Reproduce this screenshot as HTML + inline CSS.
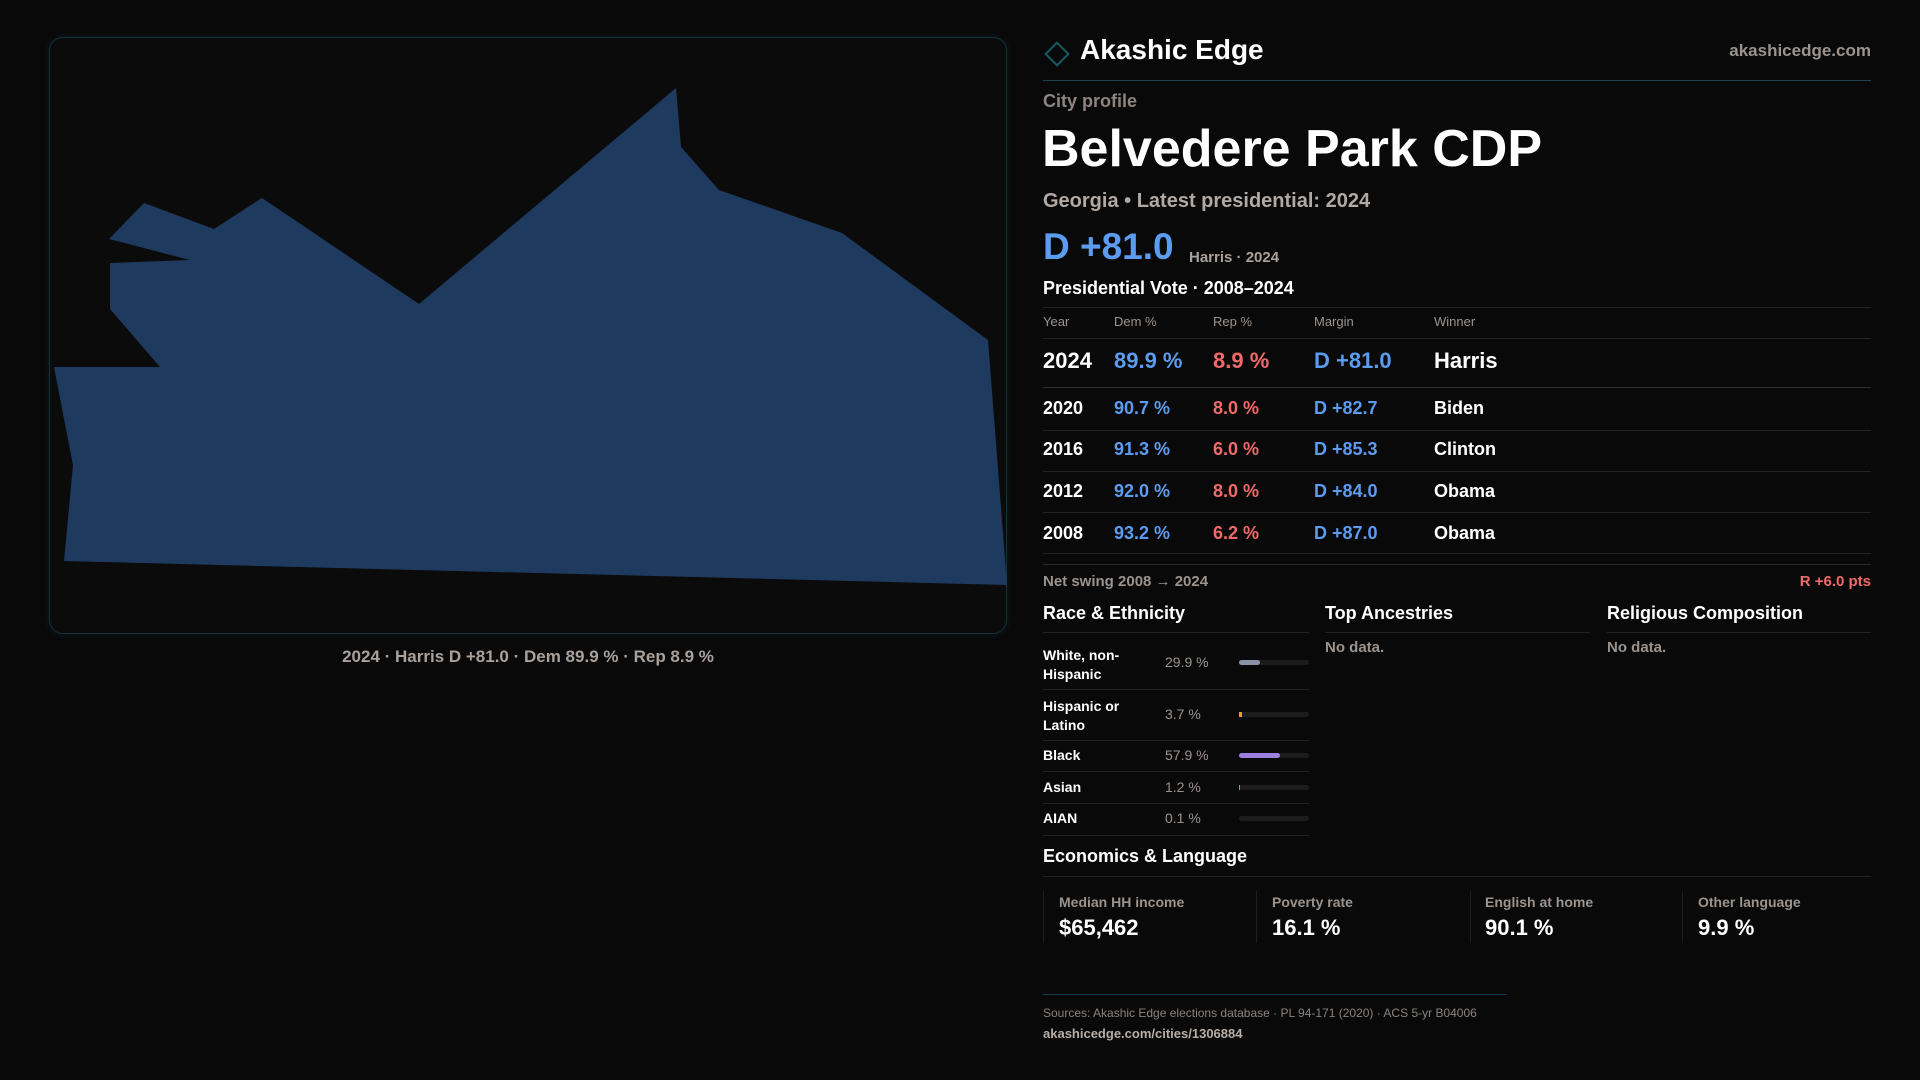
<!DOCTYPE html>
<html><head><meta charset="utf-8"><style>
*{margin:0;padding:0;box-sizing:border-box}
body{width:1920px;height:1080px;background:#0a0909;font-family:"Liberation Sans",sans-serif;color:#fff;position:relative;overflow:hidden}
.a{position:absolute;white-space:nowrap;line-height:1}
.g{color:#9a938e}
.hl{position:absolute;height:1px;background:#232323}
.b{color:#5b9cf0}.r{color:#f06a6a}
</style></head><body>
<div class="a" style="left:49px;top:37px;width:958px;height:597px;border:1px solid #12343a;border-radius:14px;background:#0b0b0b;box-shadow:0 0 8px rgba(20,80,90,0.25)"></div>
<svg class="a" style="left:0;top:0" width="1020" height="650">
<polygon fill="#1f3a5f" points="54,367 73,465 64,561 1007,585 988,340 842,233 719,190 681,147 676,88 419,304 262,198 214,229 144,203 109,239 190,260 110,263 110,309 160,367"/>
</svg>
<div class="a g" style="left:49px;width:958px;text-align:center;top:648px;font-size:17px;font-weight:bold;color:#a8a19c">2024 · Harris D +81.0 · Dem 89.9 % · Rep 8.9 %</div>

<div class="a" style="left:1048px;top:45px;width:18px;height:18px;border:2px solid #155a60;transform:rotate(45deg)"></div>
<div class="a" style="left:1080px;top:36px;font-size:28px;font-weight:bold">Akashic Edge</div>
<div class="a" style="right:49px;top:42px;font-size:17px;font-weight:bold;color:#9a938e">akashicedge.com</div>
<div class="hl" style="left:1043px;width:828px;top:80px;background:#1b4550"></div>
<div class="a g" style="left:1043px;top:92px;font-size:18px;font-weight:bold;color:#8d8580">City profile</div>
<div class="a" style="left:1042px;top:123px;font-size:52px;font-weight:bold">Belvedere Park CDP</div>
<div class="a" style="left:1043px;top:191px;font-size:20px;font-weight:bold;color:#b0a9a4">Georgia • Latest presidential: 2024</div>
<div class="a b" style="left:1043px;top:228px;font-size:37px;font-weight:bold">D +81.0</div>
<div class="a" style="left:1189px;top:250px;font-size:15px;font-weight:bold;color:#a8a19c">Harris · 2024</div>
<div class="a" style="left:1043px;top:279px;font-size:18px;font-weight:bold">Presidential Vote · 2008–2024</div>
<div class="hl" style="left:1043px;width:828px;top:307px"></div>
<div class="a g" style="left:1043px;top:315px;font-size:13px">Year</div>
<div class="a g" style="left:1114px;top:315px;font-size:13px">Dem %</div>
<div class="a g" style="left:1213px;top:315px;font-size:13px">Rep %</div>
<div class="a g" style="left:1314px;top:315px;font-size:13px">Margin</div>
<div class="a g" style="left:1434px;top:315px;font-size:13px">Winner</div>
<div class="hl" style="left:1043px;width:828px;top:338px"></div>
<div class="a" style="left:1043px;top:350px;font-size:22px;font-weight:bold">2024</div>
<div class="a b" style="left:1114px;top:350px;font-size:22px;font-weight:bold">89.9 %</div>
<div class="a r" style="left:1213px;top:350px;font-size:22px;font-weight:bold">8.9 %</div>
<div class="a b" style="left:1314px;top:350px;font-size:22px;font-weight:bold">D +81.0</div>
<div class="a" style="left:1434px;top:350px;font-size:22px;font-weight:bold">Harris</div>
<div class="hl" style="left:1043px;width:828px;top:387px;background:#2e2e2e"></div>

<div class="a" style="left:1043px;top:399px;font-size:18px;font-weight:bold">2020</div><div class="a b" style="left:1114px;top:399px;font-size:18px;font-weight:bold">90.7 %</div><div class="a r" style="left:1213px;top:399px;font-size:18px;font-weight:bold">8.0 %</div><div class="a b" style="left:1314px;top:399px;font-size:18px;font-weight:bold">D +82.7</div><div class="a" style="left:1434px;top:399px;font-size:18px;font-weight:bold">Biden</div>
<div class="hl" style="left:1043px;width:828px;top:430px"></div>
<div class="a" style="left:1043px;top:440px;font-size:18px;font-weight:bold">2016</div><div class="a b" style="left:1114px;top:440px;font-size:18px;font-weight:bold">91.3 %</div><div class="a r" style="left:1213px;top:440px;font-size:18px;font-weight:bold">6.0 %</div><div class="a b" style="left:1314px;top:440px;font-size:18px;font-weight:bold">D +85.3</div><div class="a" style="left:1434px;top:440px;font-size:18px;font-weight:bold">Clinton</div>
<div class="hl" style="left:1043px;width:828px;top:471px"></div>
<div class="a" style="left:1043px;top:482px;font-size:18px;font-weight:bold">2012</div><div class="a b" style="left:1114px;top:482px;font-size:18px;font-weight:bold">92.0 %</div><div class="a r" style="left:1213px;top:482px;font-size:18px;font-weight:bold">8.0 %</div><div class="a b" style="left:1314px;top:482px;font-size:18px;font-weight:bold">D +84.0</div><div class="a" style="left:1434px;top:482px;font-size:18px;font-weight:bold">Obama</div>
<div class="hl" style="left:1043px;width:828px;top:512px"></div>
<div class="a" style="left:1043px;top:524px;font-size:18px;font-weight:bold">2008</div><div class="a b" style="left:1114px;top:524px;font-size:18px;font-weight:bold">93.2 %</div><div class="a r" style="left:1213px;top:524px;font-size:18px;font-weight:bold">6.2 %</div><div class="a b" style="left:1314px;top:524px;font-size:18px;font-weight:bold">D +87.0</div><div class="a" style="left:1434px;top:524px;font-size:18px;font-weight:bold">Obama</div>
<div class="hl" style="left:1043px;width:828px;top:553px"></div>
<div class="hl" style="left:1043px;width:828px;top:564px;background:#2a2a2a"></div>
<div class="a g" style="left:1043px;top:574px;font-size:15px;font-weight:bold">Net swing 2008 → 2024</div>
<div class="a r" style="right:49px;top:574px;font-size:15px;font-weight:bold">R +6.0 pts</div>

<div class="a" style="left:1043px;top:604px;font-size:18px;font-weight:bold">Race &amp; Ethnicity</div>
<div class="a" style="left:1325px;top:604px;font-size:18px;font-weight:bold">Top Ancestries</div>
<div class="a" style="left:1607px;top:604px;font-size:18px;font-weight:bold">Religious Composition</div>
<div class="hl" style="left:1043px;width:266px;top:632px"></div>
<div class="hl" style="left:1325px;width:265px;top:632px"></div>
<div class="hl" style="left:1607px;width:264px;top:632px"></div>
<div class="a g" style="left:1325px;top:640px;font-size:15px;font-weight:bold">No data.</div>
<div class="a g" style="left:1607px;top:640px;font-size:15px;font-weight:bold">No data.</div>

<div class="a" style="left:1043px;top:646px;font-size:14px;font-weight:bold;line-height:19px">White, non-<br>Hispanic</div>
<div class="a g" style="left:1165px;top:655px;font-size:14px">29.9 %</div>
<div class="a" style="left:1239px;top:660px;width:70px;height:5px;border-radius:3px;background:#1c1c1c"><div style="width:30%;height:100%;background:#8a94a6;border-radius:3px"></div></div>
<div class="hl" style="left:1043px;width:266px;top:689px"></div>
<div class="a" style="left:1043px;top:697px;font-size:14px;font-weight:bold;line-height:19px">Hispanic or<br>Latino</div>
<div class="a g" style="left:1165px;top:707px;font-size:14px">3.7 %</div>
<div class="a" style="left:1239px;top:712px;width:70px;height:5px;border-radius:3px;background:#1c1c1c"><div style="width:4%;height:100%;background:#e8a020"></div></div>
<div class="hl" style="left:1043px;width:266px;top:740px"></div>
<div class="a" style="left:1043px;top:748px;font-size:14px;font-weight:bold">Black</div>
<div class="a g" style="left:1165px;top:748px;font-size:14px">57.9 %</div>
<div class="a" style="left:1239px;top:753px;width:70px;height:5px;border-radius:3px;background:#1c1c1c"><div style="width:58%;height:100%;background:#9b80e0;border-radius:3px"></div></div>
<div class="hl" style="left:1043px;width:266px;top:771px"></div>
<div class="a" style="left:1043px;top:780px;font-size:14px;font-weight:bold">Asian</div>
<div class="a g" style="left:1165px;top:780px;font-size:14px">1.2 %</div>
<div class="a" style="left:1239px;top:785px;width:70px;height:5px;border-radius:3px;background:#1c1c1c"><div style="width:2%;height:100%;background:#2ec4a0"></div></div>
<div class="hl" style="left:1043px;width:266px;top:803px"></div>
<div class="a" style="left:1043px;top:811px;font-size:14px;font-weight:bold">AIAN</div>
<div class="a g" style="left:1165px;top:811px;font-size:14px">0.1 %</div>
<div class="a" style="left:1239px;top:816px;width:70px;height:5px;border-radius:3px;background:#1c1c1c"></div>
<div class="hl" style="left:1043px;width:266px;top:835px"></div>

<div class="a" style="left:1043px;top:847px;font-size:18px;font-weight:bold">Economics &amp; Language</div>
<div class="hl" style="left:1043px;width:828px;top:876px"></div>
<div class="a" style="left:1043px;top:891px;width:1px;height:52px;background:#1e1e1e"></div>
<div class="a" style="left:1256px;top:891px;width:1px;height:52px;background:#1e1e1e"></div>
<div class="a" style="left:1470px;top:891px;width:1px;height:52px;background:#1e1e1e"></div>
<div class="a" style="left:1682px;top:891px;width:1px;height:52px;background:#1e1e1e"></div>
<div class="a g" style="left:1059px;top:895px;font-size:14px;font-weight:bold">Median HH income</div>
<div class="a g" style="left:1272px;top:895px;font-size:14px;font-weight:bold">Poverty rate</div>
<div class="a g" style="left:1485px;top:895px;font-size:14px;font-weight:bold">English at home</div>
<div class="a g" style="left:1698px;top:895px;font-size:14px;font-weight:bold">Other language</div>
<div class="a" style="left:1059px;top:917px;font-size:22px;font-weight:bold">$65,462</div>
<div class="a" style="left:1272px;top:917px;font-size:22px;font-weight:bold">16.1 %</div>
<div class="a" style="left:1485px;top:917px;font-size:22px;font-weight:bold">90.1 %</div>
<div class="a" style="left:1698px;top:917px;font-size:22px;font-weight:bold">9.9 %</div>

<div class="hl" style="left:1043px;width:464px;top:994px;background:#173f47"></div>
<div class="a g" style="left:1043px;top:1007px;font-size:12px;color:#8a837e">Sources: Akashic Edge elections database · PL 94-171 (2020) · ACS 5-yr B04006</div>
<div class="a" style="left:1043px;top:1027px;font-size:13px;font-weight:bold;color:#b5aea9">akashicedge.com/cities/1306884</div>
</body></html>
